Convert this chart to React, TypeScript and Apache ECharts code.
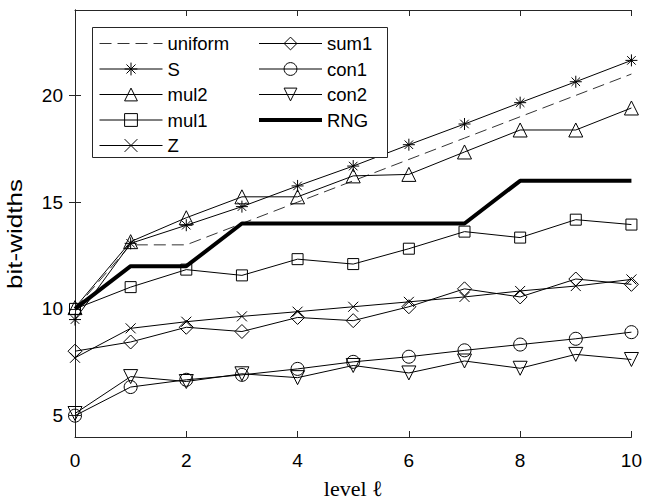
import React, { useEffect, useRef } from "react";
import * as echarts from "echarts";

const levels = [0, 1, 2, 3, 4, 5, 6, 7, 8, 9, 10];
const uniform = [10, 13, 13, 14, 15, 16, 17, 18, 19, 20, 21];
const sS = [9.5, 13.07, 13.92, 14.79, 15.76, 16.69, 17.69, 18.66, 19.66, 20.64, 21.64];
const mul2 = [10.06, 13.15, 14.27, 15.25, 15.25, 16.23, 16.3, 17.35, 18.38, 18.38, 19.41];
const mul1 = [10.0, 11.02, 11.84, 11.57, 12.33, 12.1, 12.82, 13.62, 13.34, 14.18, 13.95];
const sZ = [7.71, 9.09, 9.4, 9.65, 9.87, 10.1, 10.33, 10.56, 10.84, 11.07, 11.38];
const sum1 = [8.02, 8.45, 9.14, 8.94, 9.6, 9.45, 10.1, 10.94, 10.56, 11.4, 11.15];
const con1 = [5.0, 6.34, 6.68, 6.91, 7.19, 7.52, 7.76, 8.06, 8.33, 8.6, 8.91];
const con2 = [5.1, 6.83, 6.6, 6.96, 6.78, 7.35, 7.0, 7.56, 7.22, 7.87, 7.63];
const rng = [10, 12, 12, 14, 14, 14, 14, 14, 16, 16, 16];
const yTicks = [5, 10, 15, 20];
const legendCol1 = ["uniform", "S", "mul2", "mul1", "Z"];
const legendCol2 = ["sum1", "con1", "con2", "RNG"];
const noMarker = ["uniform", "RNG"];
const yAxisTitle = "bit-widths";
const xAxisTitle = "level \u2113";

const ASTERISK =
  "path://M0,-1L0,1M-1,0L1,0M-0.71,-0.71L0.71,0.71M-0.71,0.71L0.71,-0.71";
const CROSS = "path://M-1,-1L1,1M-1,1L1,-1";

const AX = "#262626";
const SANS = "Liberation Sans";

function mk(name: string, vals: number[], symbol: string, size: number, extra: any = {}) {
  return {
    name,
    type: "line",
    data: levels.map((x, i) => [x, vals[i]]),
    symbol,
    symbolSize: size,
    showSymbol: symbol !== "none",
    xAxisIndex: 0,
    yAxisIndex: 0,
    lineStyle: { color: "#000", width: 1, type: "solid", ...(extra.lineStyle || {}) },
    itemStyle: { color: "rgba(0,0,0,0)", borderColor: "#000", borderWidth: 1 },
    symbolRotate: extra.symbolRotate || 0,
    emphasis: { disabled: true },
    z: extra.z || 2,
  };
}

function legend(data: string[], left: number) {
  return {
    data: data.map((n) =>
      noMarker.includes(n) ? { name: n, itemStyle: { opacity: 0 } } : { name: n }
    ),
    orient: "vertical",
    left,
    top: 34,
    padding: 0,
    itemWidth: 63,
    itemHeight: 16,
    itemGap: 6.5,
    selectedMode: false,
    textStyle: { color: "#000", fontFamily: SANS, fontSize: 18.5 },
    itemStyle: { borderWidth: "inherit" },
    lineStyle: { width: "inherit" },
    z: 10,
  };
}

export default function App() {
  const ref = useRef<HTMLDivElement>(null);
  useEffect(() => {
    const chart = echarts.init(ref.current!, null, { renderer: "svg" });
    const axisCommon = {
      axisLine: { show: true, lineStyle: { color: AX, width: 1 } },
      splitLine: { show: false },
    };
    chart.setOption({
      animation: false,
      backgroundColor: "#fff",
      grid: { left: 75, right: 12, top: 10, bottom: 61, containLabel: false },
      xAxis: [
        {
          type: "value",
          min: 0,
          max: 10,
          interval: 2,
          position: "bottom",
          ...axisCommon,
          axisTick: { show: true, inside: true, length: 6, lineStyle: { color: AX } },
          axisLabel: { color: "#000", fontFamily: SANS, fontSize: 19, margin: 14 },
          name: xAxisTitle,
          nameLocation: "middle",
          nameGap: 40,
          nameTextStyle: { fontFamily: "Liberation Serif", fontSize: 22, color: "#000" },
        },
        {
          type: "value",
          min: 0,
          max: 10,
          interval: 2,
          position: "top",
          ...axisCommon,
          axisTick: { show: true, inside: true, length: 6, lineStyle: { color: AX } },
          axisLabel: { show: false },
        },
      ],
      yAxis: [
        {
          type: "value",
          min: 4,
          max: 24,
          position: "left",
          ...axisCommon,
          axisTick: { show: true, inside: true, length: 6, lineStyle: { color: AX }, customValues: yTicks },
          axisLabel: { color: "#000", fontFamily: SANS, fontSize: 19, margin: 12, customValues: yTicks },
        },
        {
          type: "value",
          min: 4,
          max: 24,
          position: "right",
          ...axisCommon,
          axisTick: { show: true, inside: true, length: 6, lineStyle: { color: AX }, customValues: yTicks },
          axisLabel: { show: false, customValues: yTicks },
        },
      ],
      legend: [legend(legendCol1, 99), legend(legendCol2, 257)],
      graphic: [
        {
          type: "rect",
          shape: { x: 92.5, y: 27.5, width: 295, height: 130 },
          style: { fill: "#fff", stroke: AX, lineWidth: 1 },
          z: 5,
        },
        {
          type: "text",
          x: 15,
          y: 234,
          rotation: Math.PI / 2,
          scaleX: 1.3,
          style: {
            text: yAxisTitle,
            fontFamily: SANS,
            fontSize: 20,
            fill: "#000",
            align: "center",
            verticalAlign: "middle",
          },
          z: 10,
        },
      ],
      series: [
        mk("uniform", uniform, "none", 0, { lineStyle: { type: [12, 6], color: "#333" } }),
        mk("S", sS, ASTERISK, 12),
        mk("mul2", mul2, "triangle", 14),
        mk("mul1", mul1, "rect", 11),
        mk("Z", sZ, CROSS, 10),
        mk("sum1", sum1, "diamond", 14),
        mk("con1", con1, "circle", 13),
        mk("con2", con2, "triangle", 14, { symbolRotate: 180 }),
        mk("RNG", rng, "none", 0, { lineStyle: { width: 4 }, z: 3 }),
      ],
    });
    return () => chart.dispose();
  }, []);
  return (
    <div
      ref={ref}
      style={{ position: "fixed", left: 0, top: 0, width: 645, height: 504 }}
    />
  );
}
